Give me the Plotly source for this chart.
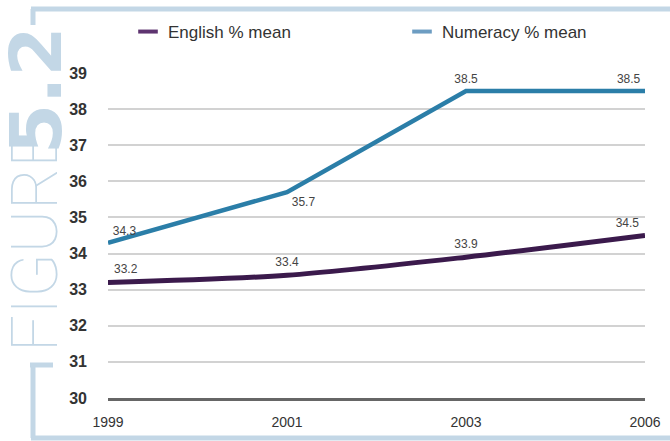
import plotly.graph_objects as go

# Survey years and mean scores
years = ["1999", "2001", "2003", "2006"]
english = [33.2, 33.4, 33.9, 34.5]
numeracy = [34.3, 35.7, 38.5, 38.5]

english_label_pos = ["top right", "top center", "top center", "top left"]
numeracy_label_pos = ["top right", "bottom right", "top center", "top left"]

ENG_COLOR = "#3b1a4c"
NUM_COLOR = "#2b7ea8"
FRAME_COLOR = "#c3d7e6"
LABEL_FONT = dict(family="Liberation Sans, Arial, sans-serif", size=12, color="#444")

# Plot area in pixels (used to place the decorative frame in paper coordinates)
L, R, T, B = 108, 645, 73, 398
W, H = 670, 441


def px_x(px):
    return (px - L) / (R - L)


def px_y(py):
    return (B - py) / (B - T)


fig = go.Figure()

# Invisible markers give the value labels some clearance from the lines
fig.add_trace(go.Scatter(
    x=years, y=english, mode="lines+markers+text",
    line=dict(color=ENG_COLOR, width=5, shape="spline", smoothing=0.8),
    marker=dict(size=8, color="rgba(0,0,0,0)"),
    text=[f"{v:.1f}" for v in english], textposition=english_label_pos,
    textfont=LABEL_FONT, showlegend=False, cliponaxis=False, hoverinfo="skip",
))
fig.add_trace(go.Scatter(
    x=years, y=numeracy, mode="lines+markers+text",
    line=dict(color=NUM_COLOR, width=4.5),
    marker=dict(size=6, color="rgba(0,0,0,0)"),
    text=[f"{v:.1f}" for v in numeracy], textposition=numeracy_label_pos,
    textfont=LABEL_FONT, showlegend=False, cliponaxis=False, hoverinfo="skip",
))

# Short dash legend keys, one legend per series
for name, color, leg in [("English % mean", "#5e3470", "legend"),
                         ("Numeracy % mean", "#6d9dc2", "legend2")]:
    fig.add_trace(go.Scatter(
        x=[None], y=[None], mode="markers", name=name, legend=leg,
        marker=dict(symbol="line-ew", size=14, color=color,
                    line=dict(color=color, width=4)),
    ))

# Decorative frame
frame = [
    (31, 9, 670, 9),      # top
    (33, 9, 33, 25),      # upper left stub
    (30, 365, 53, 365),   # lower left tick
    (33, 365, 33, 438),   # lower left
    (31, 438, 670, 438),  # bottom
]
for x0, y0, x1, y1 in frame:
    fig.add_shape(type="line", xref="paper", yref="paper",
                  x0=px_x(x0), y0=px_y(y0), x1=px_x(x1), y1=px_y(y1),
                  line=dict(color=FRAME_COLOR, width=5), layer="below")

fig.add_annotation(
    text="FIGURE", textangle=-90, showarrow=False,
    xref="paper", yref="paper", x=px_x(35), y=px_y(241),
    xanchor="center", yanchor="middle",
    font=dict(family="Roboto, Lato, sans-serif", size=65, weight=100, color=FRAME_COLOR),
)
fig.add_annotation(
    text="5.2", textangle=-90, showarrow=False,
    xref="paper", yref="paper", x=px_x(36), y=px_y(90),
    xanchor="center", yanchor="middle",
    font=dict(family="DejaVu Sans, sans-serif", size=72, weight="bold", color=FRAME_COLOR),
)

legend_common = dict(
    orientation="h", xanchor="left", yanchor="middle",
    font=dict(size=17, color="#333"), bgcolor="rgba(0,0,0,0)",
)

fig.update_layout(
    width=W, height=H,
    margin=dict(l=L, r=W - R, t=T, b=H - B, autoexpand=False),
    paper_bgcolor="white", plot_bgcolor="white",
    font=dict(family="Liberation Sans, Arial, sans-serif", color="#333"),
    legend=dict(x=px_x(128), y=px_y(32), **legend_common),
    legend2=dict(x=px_x(402), y=px_y(32), **legend_common),
    xaxis=dict(
        type="category", range=[0, 3], showgrid=False,
        showline=True, linecolor="#666", linewidth=3,
        ticks="", tickfont=dict(size=14, color="#333"), ticklabelstandoff=9,
    ),
    yaxis=dict(
        range=[30, 39], dtick=1, showgrid=True, gridcolor="#d2d2d2", gridwidth=2,
        zeroline=False, showline=False, ticks="",
        tickfont=dict(size=16, color="#333", weight="bold"), ticklabelstandoff=20,
    ),
)

fig.write_html("out.html")
